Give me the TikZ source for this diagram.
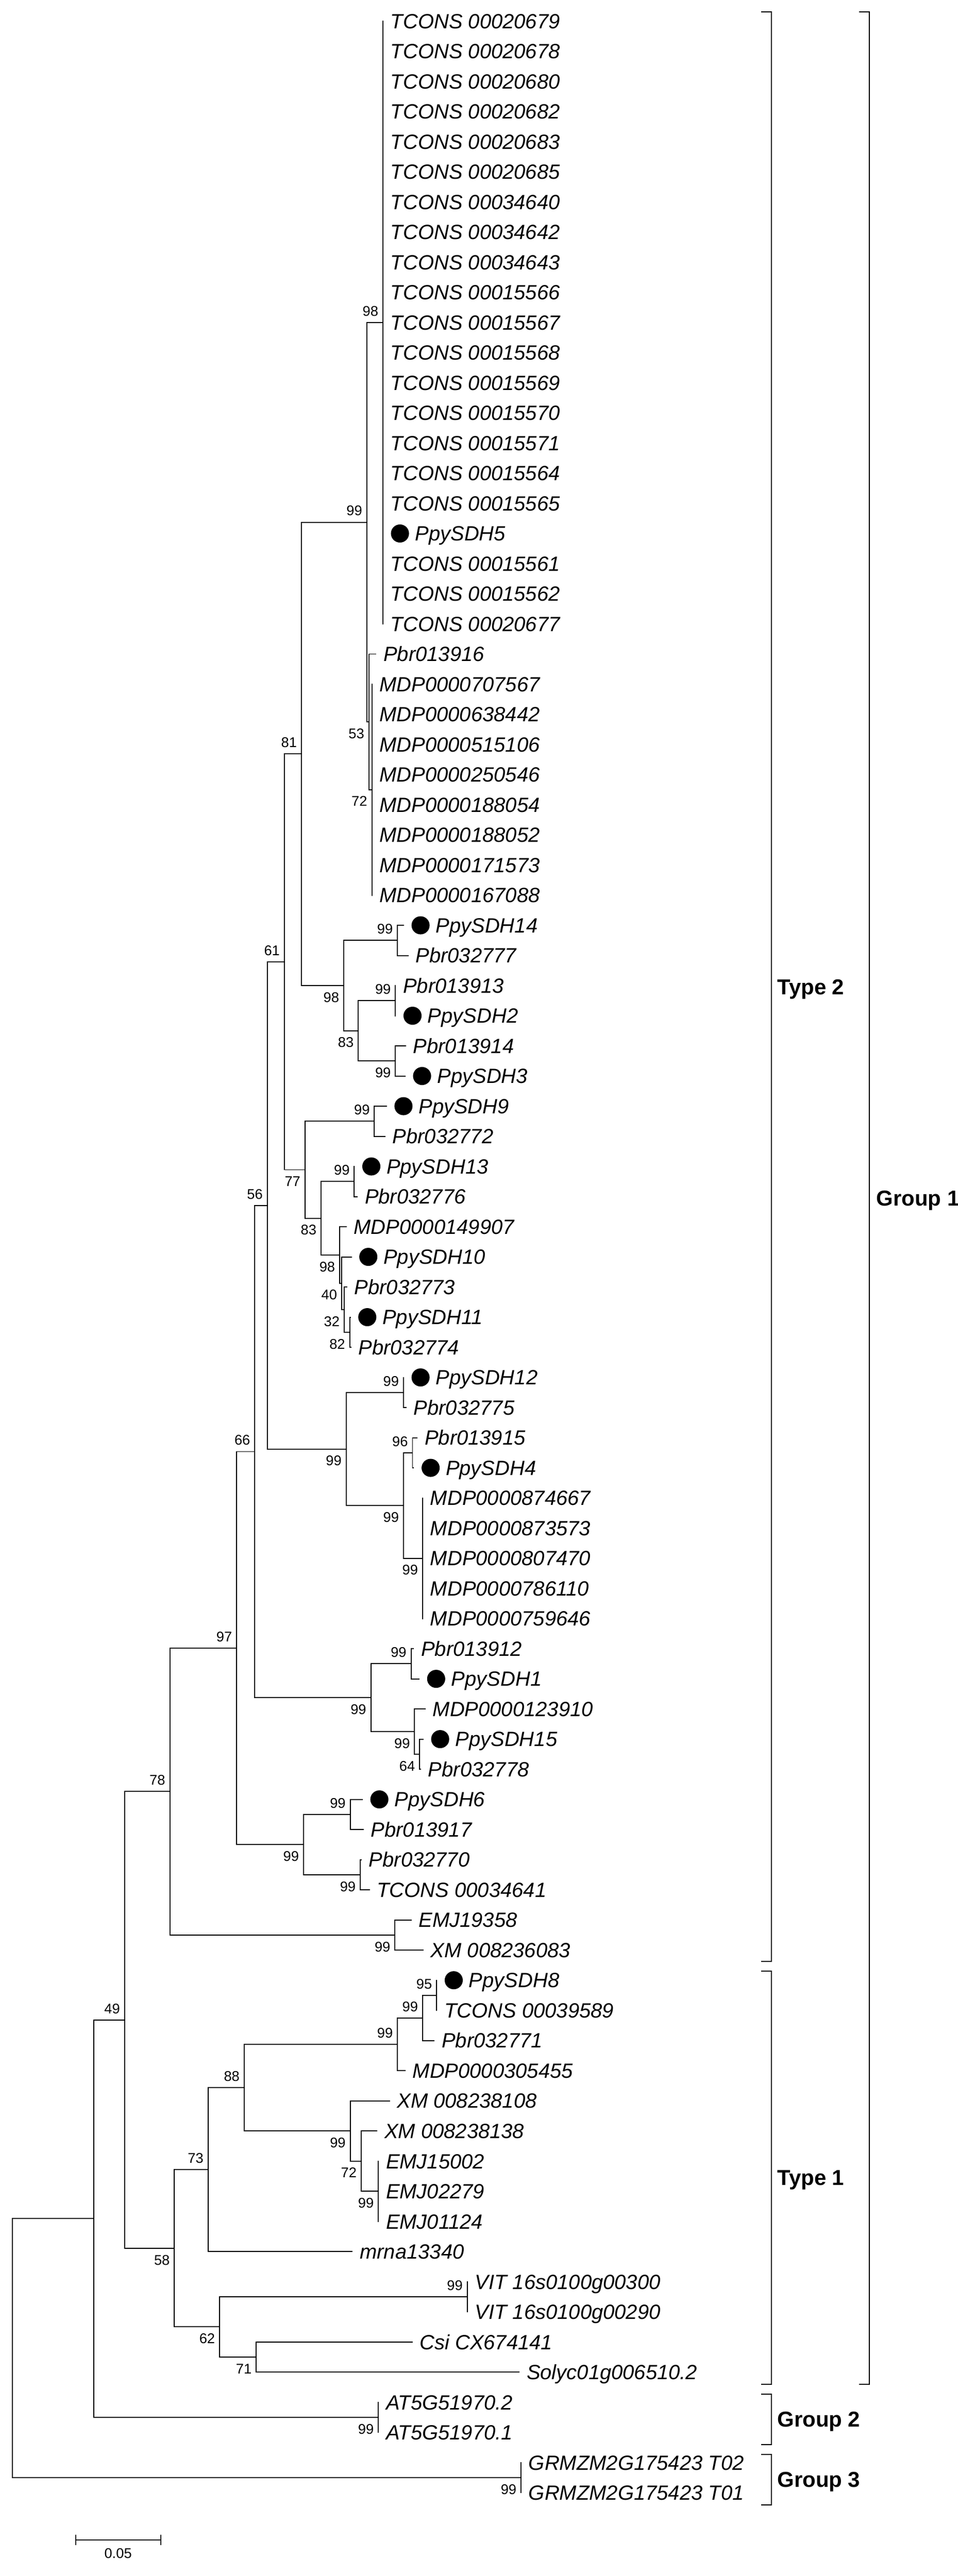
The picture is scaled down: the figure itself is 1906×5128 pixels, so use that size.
\documentclass[tikz,border=0pt]{standalone}
\usepackage{fontspec}
\setmainfont{Liberation Sans}
\newcommand\leaffont{\fontsize{41pt}{41pt}\selectfont\itshape}
\newcommand\bsfont{\fontsize{28pt}{28pt}\selectfont}
\newcommand\grpfont{\fontsize{43pt}{43pt}\selectfont\bfseries}
% leaf: name, tip x, index, text
\newcommand\lf[4]{\coordinate (#1) at (#2,{42+60*(#3-1)});
  \node[leaflab] (#1l) at ([xshift=15pt]#1) {#4};}
\newcommand\lfd[4]{\coordinate (#1) at (#2,{42+60*(#3-1)});
  \node[dotmark] (#1d) at ([xshift=34pt]#1) {};
  \node[leaflab] (#1l) at ([xshift=64pt]#1) {#4};}
\newcommand\cl[3]{\draw[br] (#1 |- #2) -- (#1 |- #3);}
\newcommand\ed[2]{\draw[br] (#1 |- #2) -- (#2);}
\newcommand\bsa[2]{\node[bslab] (b#1) at ([xshift=-9pt,yshift=23pt]#1) {#2};}
\newcommand\bsb[2]{\node[bslab] (b#1) at ([xshift=-9pt,yshift=-23pt]#1) {#2};}
\begin{document}
\begin{tikzpicture}[x=1pt,y=-1pt,
  br/.style={line width=2pt,line cap=rect},
  bk/.style={line width=2.2pt},
  leaflab/.style={anchor=west,inner sep=0pt,text height=29.4pt,text depth=0pt,font=\leaffont},
  dotmark/.style={circle,fill=black,draw=none,minimum size=36pt,inner sep=0pt},
  bslab/.style={anchor=east,inner sep=0pt,text height=20pt,text depth=0pt,font=\bsfont},
  grplab/.style={anchor=west,inner sep=0pt,text height=30.8pt,text depth=0pt,font=\grpfont}]
\useasboundingbox (0,0) rectangle (1906,5128);
\fill[white] (0,0) rectangle (1906,5128);
% ---------- leaves ----------
\lf{L1}{762}{1}{TCONS 00020679}
\lf{L2}{762}{2}{TCONS 00020678}
\lf{L3}{762}{3}{TCONS 00020680}
\lf{L4}{762}{4}{TCONS 00020682}
\lf{L5}{762}{5}{TCONS 00020683}
\lf{L6}{762}{6}{TCONS 00020685}
\lf{L7}{762}{7}{TCONS 00034640}
\lf{L8}{762}{8}{TCONS 00034642}
\lf{L9}{762}{9}{TCONS 00034643}
\lf{L10}{762}{10}{TCONS 00015566}
\lf{L11}{762}{11}{TCONS 00015567}
\lf{L12}{762}{12}{TCONS 00015568}
\lf{L13}{762}{13}{TCONS 00015569}
\lf{L14}{762}{14}{TCONS 00015570}
\lf{L15}{762}{15}{TCONS 00015571}
\lf{L16}{762}{16}{TCONS 00015564}
\lf{L17}{762}{17}{TCONS 00015565}
\lfd{L18}{762}{18}{PpySDH5}
\lf{L19}{762}{19}{TCONS 00015561}
\lf{L20}{762}{20}{TCONS 00015562}
\lf{L21}{762}{21}{TCONS 00020677}
\lf{L22}{748}{22}{Pbr013916}
\lf{L23}{740}{23}{MDP0000707567}
\lf{L24}{740}{24}{MDP0000638442}
\lf{L25}{740}{25}{MDP0000515106}
\lf{L26}{740}{26}{MDP0000250546}
\lf{L27}{740}{27}{MDP0000188054}
\lf{L28}{740}{28}{MDP0000188052}
\lf{L29}{740}{29}{MDP0000171573}
\lf{L30}{740}{30}{MDP0000167088}
\lfd{L31}{803}{31}{PpySDH14}
\lf{L32}{812}{32}{Pbr032777}
\lf{L33}{787}{33}{Pbr013913}
\lfd{L34}{787}{34}{PpySDH2}
\lf{L35}{807}{35}{Pbr013914}
\lfd{L36}{806}{36}{PpySDH3}
\lfd{L37}{769}{37}{PpySDH9}
\lf{L38}{766}{38}{Pbr032772}
\lfd{L39}{705}{39}{PpySDH13}
\lf{L40}{711}{40}{Pbr032776}
\lf{L41}{689}{41}{MDP0000149907}
\lfd{L42}{699}{42}{PpySDH10}
\lf{L43}{690}{43}{Pbr032773}
\lfd{L44}{697}{44}{PpySDH11}
\lf{L45}{698}{45}{Pbr032774}
\lfd{L46}{803}{46}{PpySDH12}
\lf{L47}{808}{47}{Pbr032775}
\lf{L48}{830}{48}{Pbr013915}
\lfd{L49}{823}{49}{PpySDH4}
\lf{L50}{841}{50}{MDP0000874667}
\lf{L51}{841}{51}{MDP0000873573}
\lf{L52}{841}{52}{MDP0000807470}
\lf{L53}{841}{53}{MDP0000786110}
\lf{L54}{841}{54}{MDP0000759646}
\lf{L55}{823}{55}{Pbr013912}
\lfd{L56}{834}{56}{PpySDH1}
\lf{L57}{846}{57}{MDP0000123910}
\lfd{L58}{842}{58}{PpySDH15}
\lf{L59}{837}{59}{Pbr032778}
\lfd{L60}{721}{60}{PpySDH6}
\lf{L61}{723}{61}{Pbr013917}
\lf{L62}{719}{62}{Pbr032770}
\lf{L63}{735}{63}{TCONS 00034641}
\lf{L64}{818}{64}{EMJ19358}
\lf{L65}{842}{65}{XM 008236083}
\lfd{L66}{869}{66}{PpySDH8}
\lf{L67}{869}{67}{TCONS 00039589}
\lf{L68}{864}{68}{Pbr032771}
\lf{L69}{806}{69}{MDP0000305455}
\lf{L70}{775}{70}{XM 008238108}
\lf{L71}{750}{71}{XM 008238138}
\lf{L72}{753}{72}{EMJ15002}
\lf{L73}{753}{73}{EMJ02279}
\lf{L74}{753}{74}{EMJ01124}
\lf{L75}{701}{75}{mrna13340}
\lf{L76}{930}{76}{VIT 16s0100g00300}
\lf{L77}{930}{77}{VIT 16s0100g00290}
\lf{L78}{820}{78}{Csi CX674141}
\lf{L79}{1033}{79}{Solyc01g006510.2}
\lf{L80}{753}{80}{AT5G51970.2}
\lf{L81}{753}{81}{AT5G51970.1}
\lf{L82}{1037}{82}{GRMZM2G175423 T02}
\lf{L83}{1037}{83}{GRMZM2G175423 T01}
% ---------- internal nodes ----------
\coordinate (n1) at (762,642);
\coordinate (n2) at (740,1572);
\coordinate (n3) at (734,1437);
\coordinate (n4) at (730,1039.5);
\coordinate (n5) at (791,1872);
\coordinate (n6) at (787,1992);
\coordinate (n7) at (787,2112);
\coordinate (n8) at (713,2052);
\coordinate (n9) at (684,1962);
\coordinate (n10) at (600,1500.75);
\coordinate (n11) at (745,2232);
\coordinate (n12) at (705,2352);
\coordinate (n13) at (696,2652);
\coordinate (n14) at (685,2607);
\coordinate (n15) at (680,2554.5);
\coordinate (n16) at (676,2498.25);
\coordinate (n17) at (639,2425.1);
\coordinate (n18) at (607,2328.6);
\coordinate (n19) at (566,1914.7);
\coordinate (n20) at (803,2772);
\coordinate (n21) at (821,2892);
\coordinate (n22) at (841,3102);
\coordinate (n23) at (803,2997);
\coordinate (n24) at (689,2884.5);
\coordinate (n25) at (532,2399.6);
\coordinate (n26) at (818,3312);
\coordinate (n27) at (835,3492);
\coordinate (n28) at (825,3447);
\coordinate (n29) at (738,3379.5);
\coordinate (n30) at (507,2889.6);
\coordinate (n31) at (697,3612);
\coordinate (n32) at (717,3732);
\coordinate (n33) at (604,3672);
\coordinate (n34) at (471,3280.8);
\coordinate (n35) at (786,3852);
\coordinate (n36) at (338,3566.4);
\coordinate (n37) at (869,3972);
\coordinate (n38) at (841,4017);
\coordinate (n39) at (791,4069.5);
\coordinate (n40) at (753,4362);
\coordinate (n41) at (719,4302);
\coordinate (n42) at (697,4242);
\coordinate (n43) at (486,4155.75);
\coordinate (n44) at (414,4318.9);
\coordinate (n45) at (930,4572);
\coordinate (n46) at (510,4692);
\coordinate (n47) at (437,4632);
\coordinate (n48) at (347,4475.5);
\coordinate (n49) at (248,4021);
\coordinate (n50) at (753,4812);
\coordinate (n51) at (187,4416.5);
\coordinate (n52) at (1037,4932);
\coordinate (n53) at (25,4674.25);
% ---------- branches ----------
\cl{n1}{L1}{L21}
\cl{n2}{L23}{L30}
\cl{n3}{L22}{n2} \ed{n3}{L22} \ed{n3}{n2}
\cl{n4}{n1}{n3} \ed{n4}{n1} \ed{n4}{n3}
\cl{n5}{L31}{L32} \ed{n5}{L31} \ed{n5}{L32}
\cl{n6}{L33}{L34} \ed{n6}{L33} \ed{n6}{L34}
\cl{n7}{L35}{L36} \ed{n7}{L35} \ed{n7}{L36}
\cl{n8}{n6}{n7} \ed{n8}{n6} \ed{n8}{n7}
\cl{n9}{n5}{n8} \ed{n9}{n5} \ed{n9}{n8}
\cl{n10}{n4}{n9} \ed{n10}{n4} \ed{n10}{n9}
\cl{n11}{L37}{L38} \ed{n11}{L37} \ed{n11}{L38}
\cl{n12}{L39}{L40} \ed{n12}{L39} \ed{n12}{L40}
\cl{n13}{L44}{L45} \ed{n13}{L44} \ed{n13}{L45}
\cl{n14}{L43}{n13} \ed{n14}{L43} \ed{n14}{n13}
\cl{n15}{L42}{n14} \ed{n15}{L42} \ed{n15}{n14}
\cl{n16}{L41}{n15} \ed{n16}{L41} \ed{n16}{n15}
\cl{n17}{n12}{n16} \ed{n17}{n12} \ed{n17}{n16}
\cl{n18}{n11}{n17} \ed{n18}{n11} \ed{n18}{n17}
\cl{n19}{n10}{n18} \ed{n19}{n10} \ed{n19}{n18}
\cl{n20}{L46}{L47} \ed{n20}{L46} \ed{n20}{L47}
\cl{n21}{L48}{L49} \ed{n21}{L48} \ed{n21}{L49}
\cl{n22}{L50}{L54}
\cl{n23}{n21}{n22} \ed{n23}{n21} \ed{n23}{n22}
\cl{n24}{n20}{n23} \ed{n24}{n20} \ed{n24}{n23}
\cl{n25}{n19}{n24} \ed{n25}{n19} \ed{n25}{n24}
\cl{n26}{L55}{L56} \ed{n26}{L55} \ed{n26}{L56}
\cl{n27}{L58}{L59} \ed{n27}{L58} \ed{n27}{L59}
\cl{n28}{L57}{n27} \ed{n28}{L57} \ed{n28}{n27}
\cl{n29}{n26}{n28} \ed{n29}{n26} \ed{n29}{n28}
\cl{n30}{n25}{n29} \ed{n30}{n25} \ed{n30}{n29}
\cl{n31}{L60}{L61} \ed{n31}{L60} \ed{n31}{L61}
\cl{n32}{L62}{L63} \ed{n32}{L62} \ed{n32}{L63}
\cl{n33}{n31}{n32} \ed{n33}{n31} \ed{n33}{n32}
\cl{n34}{n30}{n33} \ed{n34}{n30} \ed{n34}{n33}
\cl{n35}{L64}{L65} \ed{n35}{L64} \ed{n35}{L65}
\cl{n36}{n34}{n35} \ed{n36}{n34} \ed{n36}{n35}
\cl{n37}{L66}{L67}
\cl{n38}{n37}{L68} \ed{n38}{n37} \ed{n38}{L68}
\cl{n39}{n38}{L69} \ed{n39}{n38} \ed{n39}{L69}
\cl{n40}{L72}{L74}
\cl{n41}{L71}{n40} \ed{n41}{L71} \ed{n41}{n40}
\cl{n42}{L70}{n41} \ed{n42}{L70} \ed{n42}{n41}
\cl{n43}{n39}{n42} \ed{n43}{n39} \ed{n43}{n42}
\cl{n44}{n43}{L75} \ed{n44}{n43} \ed{n44}{L75}
\cl{n45}{L76}{L77}
\cl{n46}{L78}{L79} \ed{n46}{L78} \ed{n46}{L79}
\cl{n47}{n45}{n46} \ed{n47}{n45} \ed{n47}{n46}
\cl{n48}{n44}{n47} \ed{n48}{n44} \ed{n48}{n47}
\cl{n49}{n36}{n48} \ed{n49}{n36} \ed{n49}{n48}
\cl{n50}{L80}{L81}
\cl{n51}{n49}{n50} \ed{n51}{n49} \ed{n51}{n50}
\cl{n52}{L82}{L83}
\cl{n53}{n51}{n52} \ed{n53}{n51} \ed{n53}{n52}
% ---------- bootstrap values ----------
\bsa{n1}{98} \bsa{n4}{99} \bsb{n3}{53} \bsb{n2}{72}
\bsa{n10}{81} \bsb{n9}{98} \bsa{n5}{99} \bsb{n8}{83}
\bsa{n6}{99} \bsb{n7}{99} \bsa{n19}{61} \bsb{n18}{77}
\bsa{n11}{99} \bsb{n17}{83} \bsa{n12}{99} \bsb{n16}{98}
\bsb{n15}{40} \bsb{n14}{32} \bsb{n13}{82}
\bsa{n25}{56} \bsb{n24}{99} \bsa{n20}{99} \bsb{n23}{99}
\bsb{n22}{99} \bsa{n21}{96}
\bsa{n30}{66} \bsb{n29}{99} \bsa{n26}{99} \bsb{n28}{99} \bsb{n27}{64}
\bsa{n34}{97} \bsb{n33}{99} \bsa{n31}{99} \bsb{n32}{99}
\bsa{n36}{78} \bsb{n35}{99}
\bsa{n49}{49} \bsb{n48}{58} \bsa{n44}{73} \bsa{n43}{88}
\bsa{n39}{99} \bsa{n38}{99} \bsa{n37}{95}
\bsb{n42}{99} \bsb{n41}{72} \bsb{n40}{99}
\bsb{n47}{62} \bsa{n45}{99} \bsb{n46}{71}
\bsb{n50}{99} \bsb{n52}{99}
% ---------- group brackets ----------
\draw[bk] (1515,24) -- (1535,24) -- (1535,3904) -- (1515,3904);
\draw[bk] (1515,3924) -- (1535,3924) -- (1535,4746) -- (1515,4746);
\draw[bk] (1515,4766) -- (1535,4766) -- (1535,4866) -- (1515,4866);
\draw[bk] (1515,4886) -- (1535,4886) -- (1535,4986) -- (1515,4986);
\draw[bk] (1710,24) -- (1730,24) -- (1730,4746) -- (1710,4746);
\node[grplab] (gT2) at (1547,1964) {Type 2};
\node[grplab] (gT1) at (1547,4335) {Type 1};
\node[grplab] (gG1) at (1744,2385) {Group 1};
\node[grplab] (gG2) at (1547,4816) {Group 2};
\node[grplab] (gG3) at (1547,4936) {Group 3};
% ---------- scale bar ----------
\coordinate (sbL) at (151,5056);
\coordinate (sbR) at (320,5056);
\draw[br] (sbL) -- (sbR);
\draw[line width=2pt] ([yshift=10pt]sbL) -- ([yshift=-10pt]sbL);
\draw[line width=2pt] ([yshift=10pt]sbR) -- ([yshift=-10pt]sbR);
\node[bslab,anchor=center] (sbT) at (235,5083) {0.05};
\end{tikzpicture}
\end{document}
